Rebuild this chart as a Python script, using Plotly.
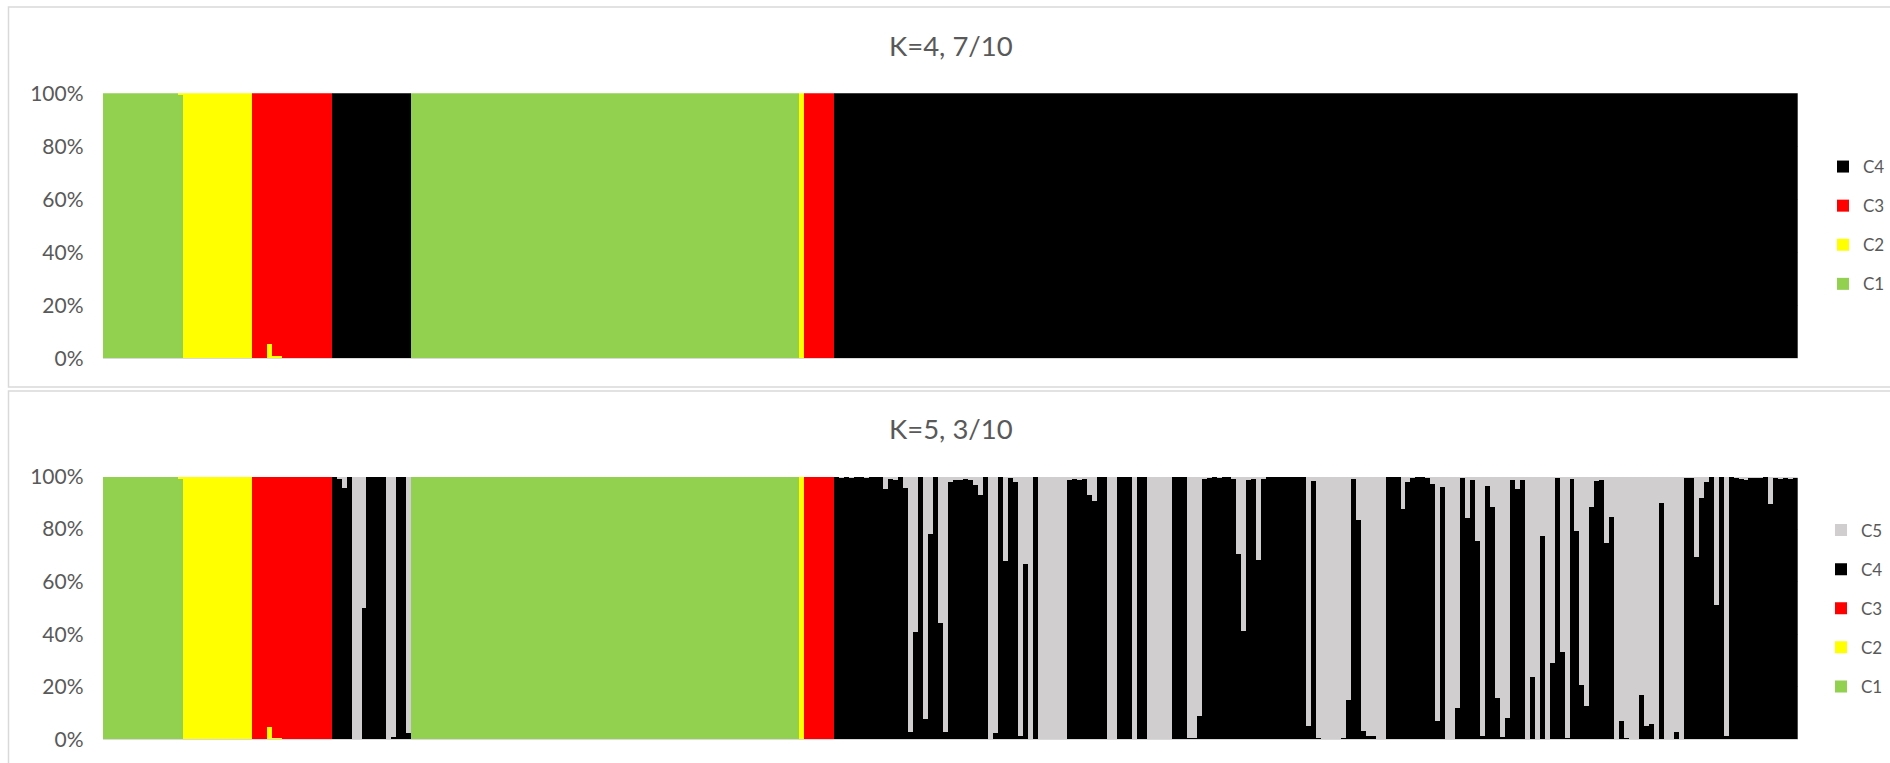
import plotly.graph_objects as go

# ---- sample layout: consecutive groups of individuals and their main cluster ----
group_sizes = [16, 14, 16, 16, 78, 1, 6, 194]
group_cluster = [1, 2, 3, 4, 1, 2, 3, 4]

# minor admixture (individual index -> {cluster: share})
minor_k4 = {
    15: {1: 0.995, 2: 0.005},
    33: {2: 0.053, 3: 0.947},
    34: {2: 0.008, 3: 0.992},
    35: {2: 0.008, 3: 0.992},
}
minor_k5 = {
    15: {1: 0.995, 2: 0.005},
    33: {2: 0.047, 3: 0.953},
    34: {2: 0.005, 3: 0.995},
    35: {2: 0.005, 3: 0.995},
}

# K=5: share of C5 within the two C4 groups (rest is C4)
c5_group_a = [0, 0.005, 0.043, 0, 1.0, 1.0, 0.497, 0, 0, 0, 0, 1.0, 0.99, 0, 0, 0.976]
c5_group_b = [
    0, 0.003, 0, 0.003, 0, 0, 0.003, 0, 0, 0,
    0.047, 0.005, 0.01, 0, 0.043, 0.97, 0.59, 0, 0.92, 0.215,
    0, 0.555, 0.97, 0.018, 0.012, 0.01, 0.005, 0.012, 0.03, 0.07,
    0, 1.0, 0.975, 0, 0.32, 0.003, 0.02, 0.985, 0.33, 1.0,
    0, 1.0, 1.0, 1.0, 1.0, 1.0, 1.0, 0.01, 0.005, 0.01,
    0.005, 0.07, 0.09, 0, 0, 1.0, 1.0, 0, 0, 0,
    1.0, 0, 0, 1.0, 1.0, 1.0, 1.0, 1.0, 0, 0,
    0, 0.995, 0.995, 0.91, 0.005, 0.003, 0, 0.003, 0, 0,
    0.005, 0.294, 0.587, 0.01, 0.005, 0.316, 0.005, 0, 0, 0,
    0, 0, 0, 0, 0, 0.946, 0.015, 0.995, 1.0, 1.0,
    1.0, 0.998, 0.995, 0.85, 0.005, 0.165, 0.965, 0.985, 0.985, 1.0,
    1.0, 0, 0, 0, 0.123, 0.018, 0.003, 0, 0, 0.003,
    0.025, 0.927, 0.038, 1.0, 1.0, 0.88, 0.003, 0.157, 0.01, 0.243,
    0.987, 0.034, 0.114, 0.84, 0.99, 0.918, 0.011, 0.044, 0.011, 1.0,
    0.762, 1.0, 0.224, 1.0, 0.709, 0.003, 0.667, 0.992, 0.005, 0.205,
    0.791, 0.872, 0.113, 0.015, 0.011, 0.253, 0.152, 1.0, 0.93, 0.992,
    1.0, 1.0, 0.828, 0.946, 0.94, 1.0, 0.1, 1.0, 1.0, 0.97,
    1.0, 0.003, 0.003, 0.306, 0.081, 0.02, 0, 0.488, 0, 0.985,
    0, 0.003, 0.005, 0.011, 0.003, 0.003, 0.003, 0, 0.104, 0.003,
    0.005, 0.003, 0.005, 0.003,
]

y_ticks = [0, 0.2, 0.4, 0.6, 0.8, 1.0]
y_tick_text = ["0%", "20%", "40%", "60%", "80%", "100%"]

colors = {1: "#92D050", 2: "#FFFF00", 3: "#FF0000", 4: "#000000", 5: "#D0CECE"}

n = sum(group_sizes)
starts = [sum(group_sizes[:i]) for i in range(len(group_sizes))]
assert len(c5_group_a) == group_sizes[3]
assert len(c5_group_b) == group_sizes[7]


def memberships(k, minor):
    q = {c: [0.0] * n for c in range(1, k + 1)}
    for start, size, c in zip(starts, group_sizes, group_cluster):
        for i in range(start, start + size):
            q[c][i] = 1.0
    for i, shares in minor.items():
        for c in q:
            q[c][i] = shares.get(c, 0.0)
    return q


q4 = memberships(4, minor_k4)
q5 = memberships(5, minor_k5)
for start, shares in ((starts[3], c5_group_a), (starts[7], c5_group_b)):
    for j, s in enumerate(shares):
        q5[5][start + j] = s
        q5[4][start + j] = 1.0 - s

idx = list(range(n))
W, H = 1890, 763

fig = go.Figure()
for k, q, ax, lg in ((4, q4, "", "legend"), (5, q5, "2", "legend2")):
    for c in range(1, k + 1):
        fig.add_trace(go.Bar(
            x=idx, y=q[c], name=f"C{c}",
            marker=dict(color=colors[c], line=dict(width=0)),
            xaxis="x" + ax, yaxis="y" + ax,
            legend=lg, legendgroup=f"k{k}c{c}", legendrank=100 - c,
            hoverinfo="skip",
        ))

x_dom = [102.5 / W, 1797.7 / W]
top_dom = [1 - 358.3 / H, 1 - 93.3 / H]
bot_dom = [1 - 739.3 / H, 1 - 476.5 / H]

xa = dict(domain=x_dom, range=[-0.5, n - 0.5], showticklabels=False, showgrid=False,
          zeroline=False, showline=True, linecolor="#D9D9D9", linewidth=1, fixedrange=True)
ya = dict(range=[0, 1], tickvals=y_ticks, ticktext=y_tick_text, showgrid=True,
          gridcolor="#D9D9D9", gridwidth=1, zeroline=False, showline=False, ticks="",
          ticklabelstandoff=18, tickfont=dict(size=21, color="#595959"), fixedrange=True)

legend_common = dict(xanchor="left", yanchor="middle", traceorder="grouped",
                     tracegroupgap=14, font=dict(size=17, color="#595959"),
                     bgcolor="rgba(0,0,0,0)", itemclick=False, itemdoubleclick=False)

fig.update_layout(
    width=W, height=H,
    margin=dict(l=0, r=0, t=0, b=0, autoexpand=False),
    paper_bgcolor="white", plot_bgcolor="white",
    font=dict(family="Lato, 'Open Sans', sans-serif", color="#595959"),
    barmode="stack", bargap=0,
    xaxis=dict(**xa, anchor="y"),
    yaxis=dict(**ya, domain=top_dom, anchor="x"),
    xaxis2=dict(**xa, anchor="y2"),
    yaxis2=dict(**ya, domain=bot_dom, anchor="x2"),
    legend=dict(**legend_common, x=1823 / W, y=1 - 225.5 / H),
    legend2=dict(**legend_common, x=1821 / W, y=1 - 608.5 / H),
    showlegend=True,
    shapes=[
        dict(type="rect", xref="paper", yref="paper", x0=8.5 / W, x1=1.01,
             y0=1 - 387 / H, y1=1 - 7 / H, line=dict(color="#D9D9D9", width=1.5),
             fillcolor="rgba(0,0,0,0)", layer="above"),
        dict(type="rect", xref="paper", yref="paper", x0=8.5 / W, x1=1.01,
             y0=-0.02, y1=1 - 391 / H, line=dict(color="#D9D9D9", width=1.5),
             fillcolor="rgba(0,0,0,0)", layer="above"),
    ],
    annotations=[
        dict(text="K=4, 7/10", xref="paper", yref="paper", x=951 / W, y=1 - 46 / H,
             showarrow=False, xanchor="center", yanchor="middle",
             font=dict(size=27.5, color="#595959")),
        dict(text="K=5, 3/10", xref="paper", yref="paper", x=951 / W, y=1 - 428 / H,
             showarrow=False, xanchor="center", yanchor="middle",
             font=dict(size=27.5, color="#595959")),
    ],
)

fig.write_html("out.html", config={"displayModeBar": False})
